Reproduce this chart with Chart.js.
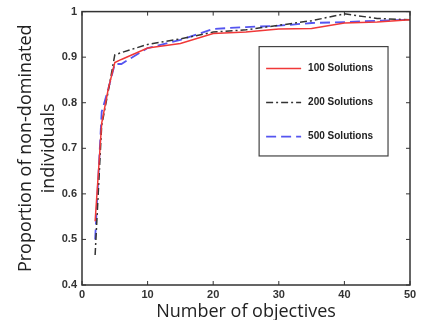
<!DOCTYPE html>
<html lang="en">
<head>
    <script src="https://cdnjs.cloudflare.com/ajax/libs/Chart.js/4.4.0/chart.umd.min.js"></script>
    <title>non-dominated</title>
    <style>
        body { margin: 0; background: #fff; }
        #wrap { width: 421px; height: 320px; }
    </style>
</head>
<body>
    <div id="wrap"><canvas id="chart" width="421" height="320"></canvas></div>

    <script>
        // values
        var objectives = [2, 3, 4, 5, 6, 10, 15, 20, 25, 30, 35, 40, 45, 50]
        var sol100 = [0.54, 0.755, 0.83, 0.888, 0.895, 0.92, 0.93, 0.952, 0.955, 0.962, 0.963, 0.975, 0.977, 0.982]
        var sol200 = [0.466, 0.75, 0.825, 0.905, 0.91, 0.928, 0.94, 0.955, 0.96, 0.97, 0.98, 0.995, 0.985, 0.982]
        var sol500 = [0.50, 0.78, 0.83, 0.885, 0.885, 0.92, 0.938, 0.962, 0.966, 0.969, 0.975, 0.977, 0.98, 0.982]
        var xTicks = [0, 10, 20, 30, 40, 50]
        var yTicks = [0.4, 0.5, 0.6, 0.7, 0.8, 0.9, 1]

        function pts(vals) {
            return objectives.map(function (x, i) { return { x: x, y: vals[i] } })
        }

        // MATLAB style frame, inward ticks and the boxed legend
        var matlabBox = {
            id: 'matlabBox',
            afterDatasetsDraw: function (chart) {
                var ctx = chart.ctx
                var a = chart.chartArea
                var xs = chart.scales.x, ys = chart.scales.y
                ctx.save()
                ctx.strokeStyle = '#333'
                ctx.lineWidth = 1.5
                ctx.strokeRect(a.left, a.top, a.right - a.left, a.bottom - a.top)
                ctx.lineWidth = 1
                xTicks.forEach(function (t) {
                    var px = xs.getPixelForValue(t)
                    ctx.beginPath()
                    ctx.moveTo(px, a.bottom); ctx.lineTo(px, a.bottom - 4)
                    ctx.moveTo(px, a.top); ctx.lineTo(px, a.top + 4)
                    ctx.stroke()
                })
                yTicks.forEach(function (t) {
                    var py = ys.getPixelForValue(t)
                    ctx.beginPath()
                    ctx.moveTo(a.left, py); ctx.lineTo(a.left + 4, py)
                    ctx.moveTo(a.right, py); ctx.lineTo(a.right - 4, py)
                    ctx.stroke()
                })

                // legend box
                var w = a.right - a.left, h = a.bottom - a.top
                var bx = a.left + w * 0.54, by = a.top + h * 0.128
                var bw = w * 0.393, bh = h * 0.40
                ctx.fillStyle = '#fff'
                ctx.fillRect(bx, by, bw, bh)
                ctx.strokeStyle = '#444'
                ctx.lineWidth = 1.2
                ctx.strokeRect(bx, by, bw, bh)
                ctx.font = 'bold 10px "Liberation Sans", Arial, sans-serif'
                ctx.textBaseline = 'middle'
                chart.data.datasets.forEach(function (ds, i) {
                    var ly = by + 22 + i * 34
                    ctx.strokeStyle = ds.borderColor
                    ctx.lineWidth = ds.borderWidth
                    ctx.setLineDash(ds.borderDash || [])
                    ctx.beginPath()
                    ctx.moveTo(bx + 7, ly); ctx.lineTo(bx + 42, ly)
                    ctx.stroke()
                    ctx.setLineDash([])
                    ctx.fillStyle = '#222'
                    ctx.fillText(ds.label, bx + 49, ly)
                })
                ctx.restore()
            }
        }

        new Chart('chart', {
            type: 'line',
            data: {
                datasets: [{
                    label: '100 Solutions',
                    data: pts(sol100),
                    borderColor: '#f03838',
                    borderWidth: 1.5,
                    pointRadius: 0,
                    tension: 0,
                    fill: false
                }, {
                    label: '200 Solutions',
                    data: pts(sol200),
                    borderColor: '#333333',
                    borderWidth: 1.5,
                    borderDash: [7, 3, 2, 3],
                    pointRadius: 0,
                    tension: 0,
                    fill: false
                }, {
                    label: '500 Solutions',
                    data: pts(sol500),
                    borderColor: '#5555f0',
                    borderWidth: 1.8,
                    borderDash: [10, 5],
                    pointRadius: 0,
                    tension: 0,
                    fill: false
                }]
            },
            options: {
                responsive: false,
                animation: false,
                layout: { padding: { top: 11, right: 11, left: 0, bottom: 0 } },
                plugins: {
                    legend: { display: false },
                    tooltip: { enabled: false }
                },
                scales: {
                    x: {
                        type: 'linear',
                        min: 0, max: 50,
                        afterBuildTicks: function (s) { s.ticks = xTicks.map(function (v) { return { value: v } }) },
                        afterFit: function (s) { s.height = 35 },
                        grid: { display: false, drawTicks: false, tickLength: 0 },
                        border: { display: false },
                        ticks: {
                            color: '#333',
                            padding: 3,
                            font: { family: '"Liberation Sans", Arial, sans-serif', size: 11, weight: 'bold' }
                        },
                        title: {
                            display: true,
                            text: 'Number of objectives',
                            color: '#222',
                            padding: { top: 0, bottom: 0 },
                            font: { family: '"Open Sans", sans-serif', size: 18, lineHeight: 0.9 }
                        }
                    },
                    y: {
                        type: 'linear',
                        min: 0.4, max: 1,
                        afterBuildTicks: function (s) { s.ticks = yTicks.map(function (v) { return { value: v } }) },
                        afterFit: function (s) { s.width = 82 },
                        grid: { display: false, drawTicks: false, tickLength: 0 },
                        border: { display: false },
                        ticks: {
                            color: '#333',
                            padding: 5,
                            font: { family: '"Liberation Sans", Arial, sans-serif', size: 11, weight: 'bold' },
                            callback: function (v) { return String(Math.round(v * 10) / 10) }
                        },
                        title: {
                            display: true,
                            text: ['Proportion of non-dominated', 'individuals'],
                            color: '#222',
                            padding: { top: 14, bottom: 0 },
                            font: { family: '"Open Sans", sans-serif', size: 18, lineHeight: 1.3 }
                        }
                    }
                }
            },
            plugins: [matlabBox]
        })
    </script>
</body>
</html>
